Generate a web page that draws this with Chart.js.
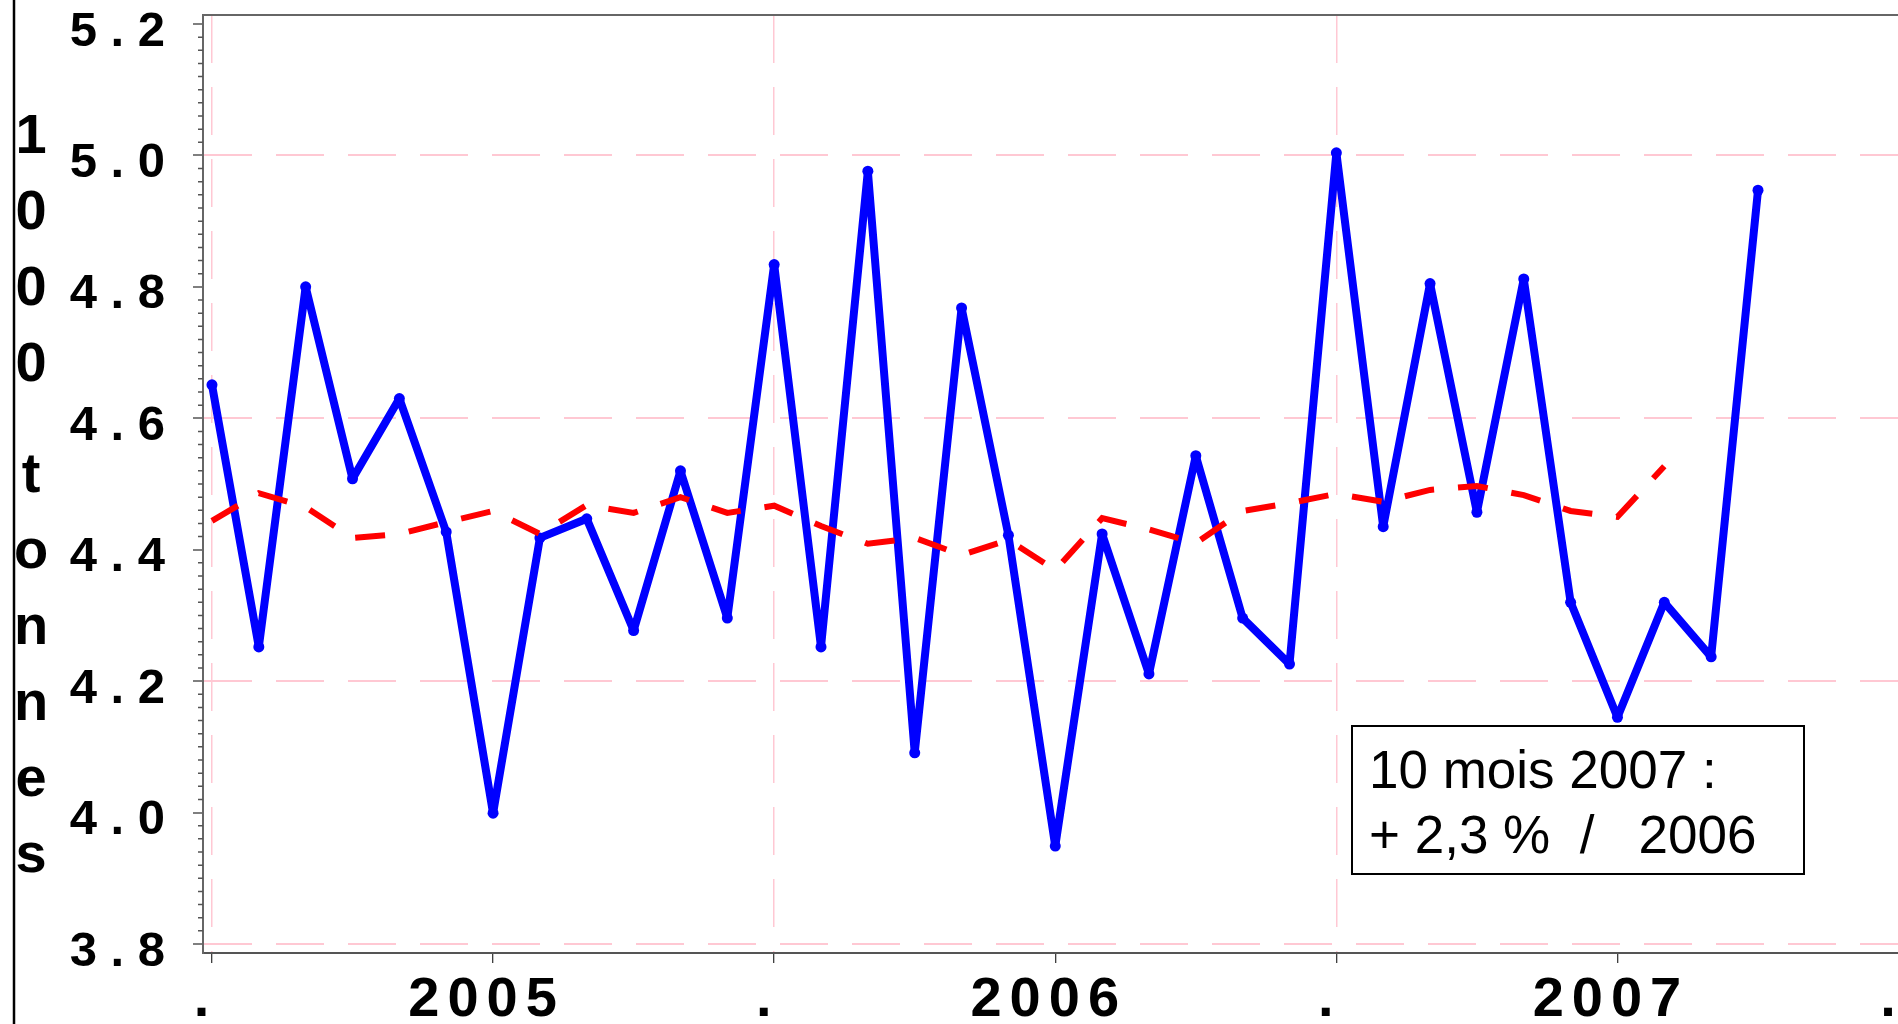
<!DOCTYPE html>
<html>
<head>
<meta charset="utf-8">
<script src="https://cdn.jsdelivr.net/npm/chart.js@4.4.1/dist/chart.umd.min.js"></script>
<style>
html, body { margin: 0; padding: 0; overflow: hidden; background: #fff; }
#wrap { position: relative; width: 1920px; height: 1024px; }
#note {
  position: absolute; left: 1351px; top: 725px; width: 454px; height: 150px;
  box-sizing: border-box; border: 2px solid #000; background: #fff; color: #000;
  font-family: "Liberation Sans", Arial, sans-serif; font-size: 53px; line-height: 65px;
  white-space: pre; padding: 10px 0 0 16px;
}
</style>
</head>
<body>
<div id="wrap">
  <canvas id="c" width="1920" height="1024"></canvas>
  <div id="note">10 mois 2007 :
+ 2,3 %  /   2006</div>
</div>
<script>
// ---- data ----
const months = [
  '2005-01','2005-02','2005-03','2005-04','2005-05','2005-06','2005-07','2005-08','2005-09','2005-10','2005-11','2005-12',
  '2006-01','2006-02','2006-03','2006-04','2006-05','2006-06','2006-07','2006-08','2006-09','2006-10','2006-11','2006-12',
  '2007-01','2007-02','2007-03','2007-04','2007-05','2007-06','2007-07','2007-08','2007-09','2007-10'
];
const tonnage = [
  4.651, 4.252, 4.800, 4.508, 4.630, 4.427, 3.999, 4.418, 4.447, 4.277, 4.520, 4.296,
  4.834, 4.252, 4.976, 4.091, 4.768, 4.422, 3.949, 4.424, 4.211, 4.543, 4.296, 4.226,
  5.004, 4.435, 4.805, 4.457, 4.812, 4.320, 4.145, 4.320, 4.237, 4.947
];
const trend = [
  4.444, 4.486, 4.465, 4.418, 4.424, 4.442, 4.459, 4.424, 4.468, 4.456, 4.480, 4.456,
  4.467, 4.436, 4.409, 4.418, 4.392, 4.415, 4.369, 4.448, 4.431, 4.410, 4.459, 4.471,
  4.485, 4.473, 4.491, 4.497, 4.483, 4.459, 4.450, 4.527
];
const xTickValues = [0, 6, 12, 18, 24, 30, 36];
const xTickLabels = ['.', '2005', '.', '2006', '.', '2007', '.'];
const xGridValues = [0, 12, 24, 36];
const yTickValues = [3.8, 4.0, 4.2, 4.4, 4.6, 4.8, 5.0, 5.2];
const yTickLabels = ['3 . 8', '4 . 0', '4 . 2', '4 . 4', '4 . 6', '4 . 8', '5 . 0', '5 . 2'];
const yGridValues = [3.8, 4.2, 4.6, 5.0];
const yMinorStep = 0.02;
const yTitle = '1000 tonnes';

const FONT = '"Liberation Sans", Arial, sans-serif';
const PINK = '#ffc8d3';
const isIn = (arr, v) => arr.some(g => Math.abs(g - v) < 1e-6);

const decor = {
  id: 'decor',
  beforeDraw(chart) {
    const sx = chart.scales.x;
    if (sx && !sx._lsPatched) {
      const orig = sx.drawLabels;
      sx.drawLabels = function (area) {
        const c = this.ctx;
        c.save();
        c.letterSpacing = '8px';
        orig.call(this, area);
        c.restore();
      };
      sx._lsPatched = true;
    }
  },
  afterDraw(chart) {
    const ctx = chart.ctx, ys = chart.scales.y, area = chart.chartArea;
    ctx.save();
    // minor y ticks
    ctx.strokeStyle = '#555';
    ctx.lineWidth = 1.5;
    const lo = yTickValues[0], hi = yTickValues[yTickValues.length - 1];
    const n = Math.round((hi - lo) / yMinorStep);
    ctx.beginPath();
    for (let k = 1; k < n; k++) {
      if (k % 10 === 0) continue;
      const p = ys.getPixelForValue(lo + k * yMinorStep);
      ctx.moveTo(area.left - 5, p);
      ctx.lineTo(area.left, p);
    }
    ctx.stroke();
    // top frame line
    ctx.strokeStyle = '#666';
    ctx.lineWidth = 2;
    ctx.beginPath();
    ctx.moveTo(area.left, area.top);
    ctx.lineTo(area.right, area.top);
    ctx.stroke();
    // outer left line
    ctx.strokeStyle = '#000';
    ctx.lineWidth = 2.5;
    ctx.beginPath();
    ctx.moveTo(14, 0);
    ctx.lineTo(14, chart.height);
    ctx.stroke();
    // stacked y title
    ctx.fillStyle = '#000';
    ctx.font = 'bold 56px ' + FONT;
    ctx.textAlign = 'center';
    ctx.textBaseline = 'alphabetic';
    let y = 153;
    for (const ch of yTitle) {
      if (ch === ' ') { y += 35; continue; }
      ctx.fillText(ch, 31, y);
      y += 76;
    }
    ctx.restore();
  }
};

new Chart(document.getElementById('c'), {
  type: 'line',
  data: {
    datasets: [
      {
        label: 'tendance',
        data: trend.map((v, i) => ({ x: i, y: v })),
        borderColor: '#ff0000',
        borderWidth: 6,
        borderDash: [30, 24],
        borderCapStyle: 'butt',
        pointRadius: 0,
        tension: 0,
        fill: false
      },
      {
        label: 'tonnage',
        data: tonnage.map((v, i) => ({ x: i, y: v })),
        borderColor: '#0000ff',
        backgroundColor: '#0000ff',
        borderWidth: 8,
        borderJoinStyle: 'round',
        pointRadius: 5.5,
        pointBorderWidth: 0,
        pointBackgroundColor: '#0000ff',
        pointHoverRadius: 5.5,
        tension: 0,
        fill: false
      }
    ]
  },
  options: {
    responsive: false,
    devicePixelRatio: 1,
    animation: false,
    events: [],
    layout: { padding: { top: 15, left: 0, right: 0, bottom: 0 } },
    plugins: { legend: { display: false }, tooltip: { enabled: false }, title: { display: false } },
    scales: {
      x: {
        type: 'linear',
        min: -0.19149,
        max: 36.3404,
        afterBuildTicks: s => { s.ticks = xTickValues.map(v => ({ value: v })); },
        afterFit: s => { s.height = 71; s.paddingLeft = 0; s.paddingRight = 0; },
        ticks: {
          callback: (v, i) => xTickLabels[i],
          font: { family: FONT, weight: 'bold', size: 56 },
          color: '#000',
          padding: 4,
          labelOffset: -6.5,
          maxRotation: 0,
          minRotation: 0,
          autoSkip: false
        },
        grid: {
          color: c => (c.tick && isIn(xGridValues, c.tick.value)) ? PINK : 'rgba(0,0,0,0)',
          lineWidth: 1.5,
          tickLength: 10,
          tickColor: '#000',
          tickWidth: 1
        },
        border: { display: true, color: '#555', width: 2, dash: [48, 24] }
      },
      y: {
        type: 'linear',
        min: 3.7863,
        max: 5.2137,
        afterBuildTicks: s => { s.ticks = yTickValues.map(v => ({ value: v })); },
        afterFit: s => { s.width = 203; s.paddingTop = 0; s.paddingBottom = 0; },
        ticks: {
          callback: (v, i) => yTickLabels[i],
          font: { family: FONT, weight: 'bold', size: 49 },
          color: '#000',
          padding: 28,
          labelOffset: 8,
          autoSkip: false
        },
        grid: {
          color: c => (c.tick && isIn(yGridValues, c.tick.value)) ? PINK : 'rgba(0,0,0,0)',
          lineWidth: 2,
          tickLength: 10,
          tickColor: '#555',
          tickWidth: 1.5
        },
        border: { display: true, color: '#666', width: 2, dash: [48, 24] }
      }
    }
  },
  plugins: [decor]
});
</script>
</body>
</html>
